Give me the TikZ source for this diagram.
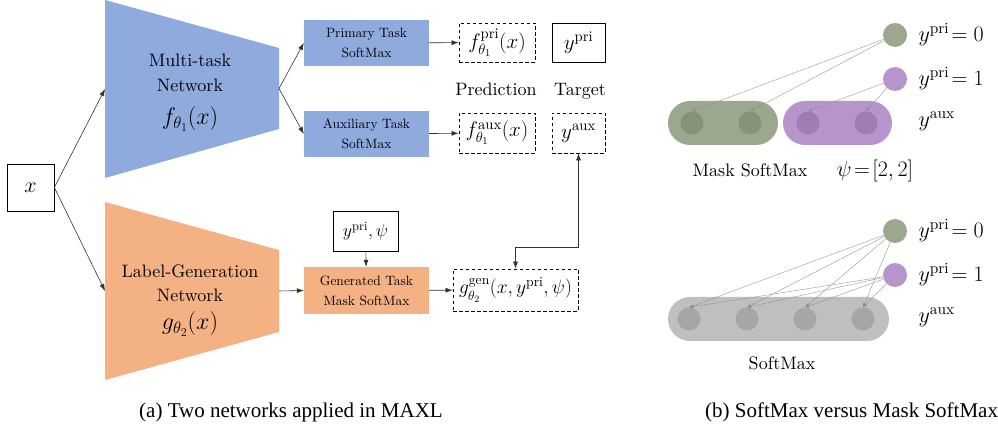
\documentclass[tikz,border=0pt]{standalone}
\usepackage{fix-cm}
\usepackage{amsmath}
\usepackage{fontspec}
\setmainfont{lmroman10-regular.otf}[ItalicFont=lmroman10-italic.otf, BoldFont=lmroman10-bold.otf]
\newfontfamily\capfont{Liberation Serif}
\usetikzlibrary{arrows.meta,positioning}

\definecolor{netblue}{HTML}{8FAADC}
\definecolor{netorange}{HTML}{F4B183}
\definecolor{prigreen}{HTML}{9BA88F}
\definecolor{prigreendk}{HTML}{84937A}
\definecolor{auxpurple}{HTML}{B595CC}
\definecolor{auxpurpledk}{HTML}{9E7DB5}
\definecolor{smgray}{HTML}{BFBFBF}
\definecolor{smgraydk}{HTML}{A6A6A6}

\tikzset{
  lab/.style={font=\fontsize{18}{25}\selectfont},
  mathlab/.style={font=\fontsize{21}{25}\selectfont},
  biglab/.style={font=\fontsize{22}{26}\selectfont},
  smalltxt/.style={font=\fontsize{13.5}{20}\selectfont, align=center},
  arr/.style={-{Latex[length=7pt,width=5pt]}, line width=0.6pt, draw=black!80},
  thinarr/.style={-{Latex[length=4pt,width=3pt]}, line width=0.35pt, draw=black!45},
  solidbox/.style={draw, line width=0.7pt, inner sep=0pt},
  dashbox/.style={draw, line width=0.7pt, dash pattern=on 3.5pt off 2.5pt, inner sep=0pt},
  taskbox/.style={smalltxt, minimum width=125, minimum height=46, inner sep=0pt},
  dot/.style={circle, inner sep=0pt, minimum size=24},
  inner/.style={circle, inner sep=0pt, minimum size=23},
}

\begin{document}
\begin{tikzpicture}[x=1pt,y=-1pt]
\useasboundingbox (0,0) rectangle (998,427);

% (a) the two networks
\node[solidbox, biglab, minimum width=47, minimum height=47] (x) at (30.5,187.5) {$x$};

\fill[netblue] (105,0) -- (279,48) -- (279,129) -- (105,178) -- cycle;
\coordinate (mtin) at (105,89);
\coordinate (mtout) at (279,88.5);
\node[lab, anchor=base] (mt1) at (190,67) {Multi-task};
\node[lab, anchor=base] (mt2) at (190,92) {Network};
\node[anchor=base, font=\fontsize{24}{28}\selectfont] (mtf) at (190,125) {$f_{\theta_1}(x)$};

\fill[netorange] (105,202) -- (279,250) -- (279,332) -- (105,380) -- cycle;
\coordinate (lgin) at (105,291);
\coordinate (lgout) at (279,291);
\node[lab, anchor=base] (lg1) at (190,278) {Label-Generation};
\node[lab, anchor=base] (lg2) at (190,302) {Network};
\node[anchor=base, font=\fontsize{24}{28}\selectfont] (lgf) at (190,330) {$g_{\theta_2}(x)$};

\draw[arr] (x.east) -- (mtin);
\draw[arr] (x.east) -- (lgin);

\node[taskbox, fill=netblue] (pri) at (366.5,43) {Primary Task\\SoftMax};
\node[taskbox, fill=netblue] (aux) at (366.5,134) {Auxiliary Task\\SoftMax};
\node[taskbox, fill=netorange, minimum height=47] (gen) at (366.5,290.5) {Generated Task\\Mask SoftMax};
\node[solidbox, lab, minimum width=65, minimum height=40] (ypsi) at (365.5,231) {$y^{\mathrm{pri}},\psi$};

\draw[arr] (mtout) -- (pri.west);
\draw[arr] (mtout) -- (aux.west);
\draw[arr] (lgout) -- (gen.west);
\draw[arr] (ypsi) -- (gen);

% predictions and targets
\node[dashbox, mathlab, minimum width=76, minimum height=39] (fpri) at (497,42.5) {$f_{\theta_1}^{\mathrm{pri}}(x)$};
\node[dashbox, mathlab, minimum width=76, minimum height=40] (faux) at (497,133) {$f_{\theta_1}^{\mathrm{aux}}(x)$};
\node[dashbox, font=\fontsize{19.5}{24}\selectfont, minimum width=125, minimum height=42] (ggen) at (515.5,290) {$g_{\theta_2}^{\mathrm{gen}}(x,y^{\mathrm{pri}},\psi)$};
\node[solidbox, mathlab, minimum width=53, minimum height=39] (ypri) at (578.5,42.5) {$y^{\mathrm{pri}}$};
\node[dashbox, mathlab, minimum width=53, minimum height=40] (yaux) at (578.5,133) {$y^{\mathrm{aux}}$};
\node[lab, anchor=base] (pred) at (496,96) {Prediction};
\node[lab, anchor=base] (targ) at (580,96) {Target};

\draw[arr] (pri) -- (fpri);
\draw[arr] (aux) -- (faux);
\draw[arr] (gen) -- (ggen);
\draw[arr, {Latex[length=7pt,width=5pt]}-{Latex[length=7pt,width=5pt]}] (ggen.north) -- ++(0,-21) -| (yaux.south);

% (b) mask softmax
\node[dot, fill=prigreen] (a0) at (895,35) {};
\node[dot, fill=auxpurple] (a1) at (895,79) {};
\node[fill=prigreen, rounded corners=22, minimum width=110, minimum height=44] (gbar) at (723,123) {};
\node[fill=auxpurple, rounded corners=22, minimum width=109, minimum height=44] (pbar) at (837.5,123) {};
\node[inner, fill=prigreendk] (m1) at (692,123) {};
\node[inner, fill=prigreendk] (m2) at (750,123) {};
\node[inner, fill=auxpurpledk] (m3) at (808,123) {};
\node[inner, fill=auxpurpledk] (m4) at (866,123) {};
\draw[thinarr] (a0) -- (m1.north);
\draw[thinarr] (a0) -- (m2.north);
\draw[thinarr] (a1) -- (m3.north);
\draw[thinarr] (a1) -- (m4.north);
\node[biglab, anchor=west] (l0) at (915,35) {$y^{\mathrm{pri}}\!=0$};
\node[biglab, anchor=west] (l1) at (915,79) {$y^{\mathrm{pri}}\!=1$};
\node[biglab, anchor=west] (l2) at (915,121) {$y^{\mathrm{aux}}$};
\node[lab] (mlab) at (750,170) {Mask SoftMax};
\node[biglab] (psi) at (875,171) {$\psi\!=\![2,2]$};

% (b) plain softmax
\node[dot, fill=prigreen] (b0) at (895,231) {};
\node[dot, fill=auxpurple] (b1) at (895,275) {};
\node[fill=smgray, rounded corners=22, minimum width=221, minimum height=44] (sbar) at (778.5,319) {};
\foreach \i/\xx in {1/689,2/747,3/805,4/863} {
  \node[inner, fill=smgraydk] (s\i) at (\xx,319) {};
}
\foreach \i in {1,...,4} {
  \draw[thinarr] (b0) -- (s\i.north);
  \draw[thinarr] (b1) -- (s\i.north);
}
\node[biglab, anchor=west] (k0) at (915,231) {$y^{\mathrm{pri}}\!=0$};
\node[biglab, anchor=west] (k1) at (915,275) {$y^{\mathrm{pri}}\!=1$};
\node[biglab, anchor=west] (k2) at (915,317) {$y^{\mathrm{aux}}$};
\node[lab] (slab) at (782,363) {SoftMax};

% captions
\node[anchor=base west, font=\capfont\fontsize{21}{24}\selectfont, inner sep=0pt] (capa) at (139,417) {(a) Two networks applied in MAXL};
\node[anchor=base west, font=\capfont\fontsize{21}{24}\selectfont, inner sep=0pt] (capb) at (705,417) {(b) SoftMax versus Mask SoftMax};
\end{tikzpicture}
\end{document}
